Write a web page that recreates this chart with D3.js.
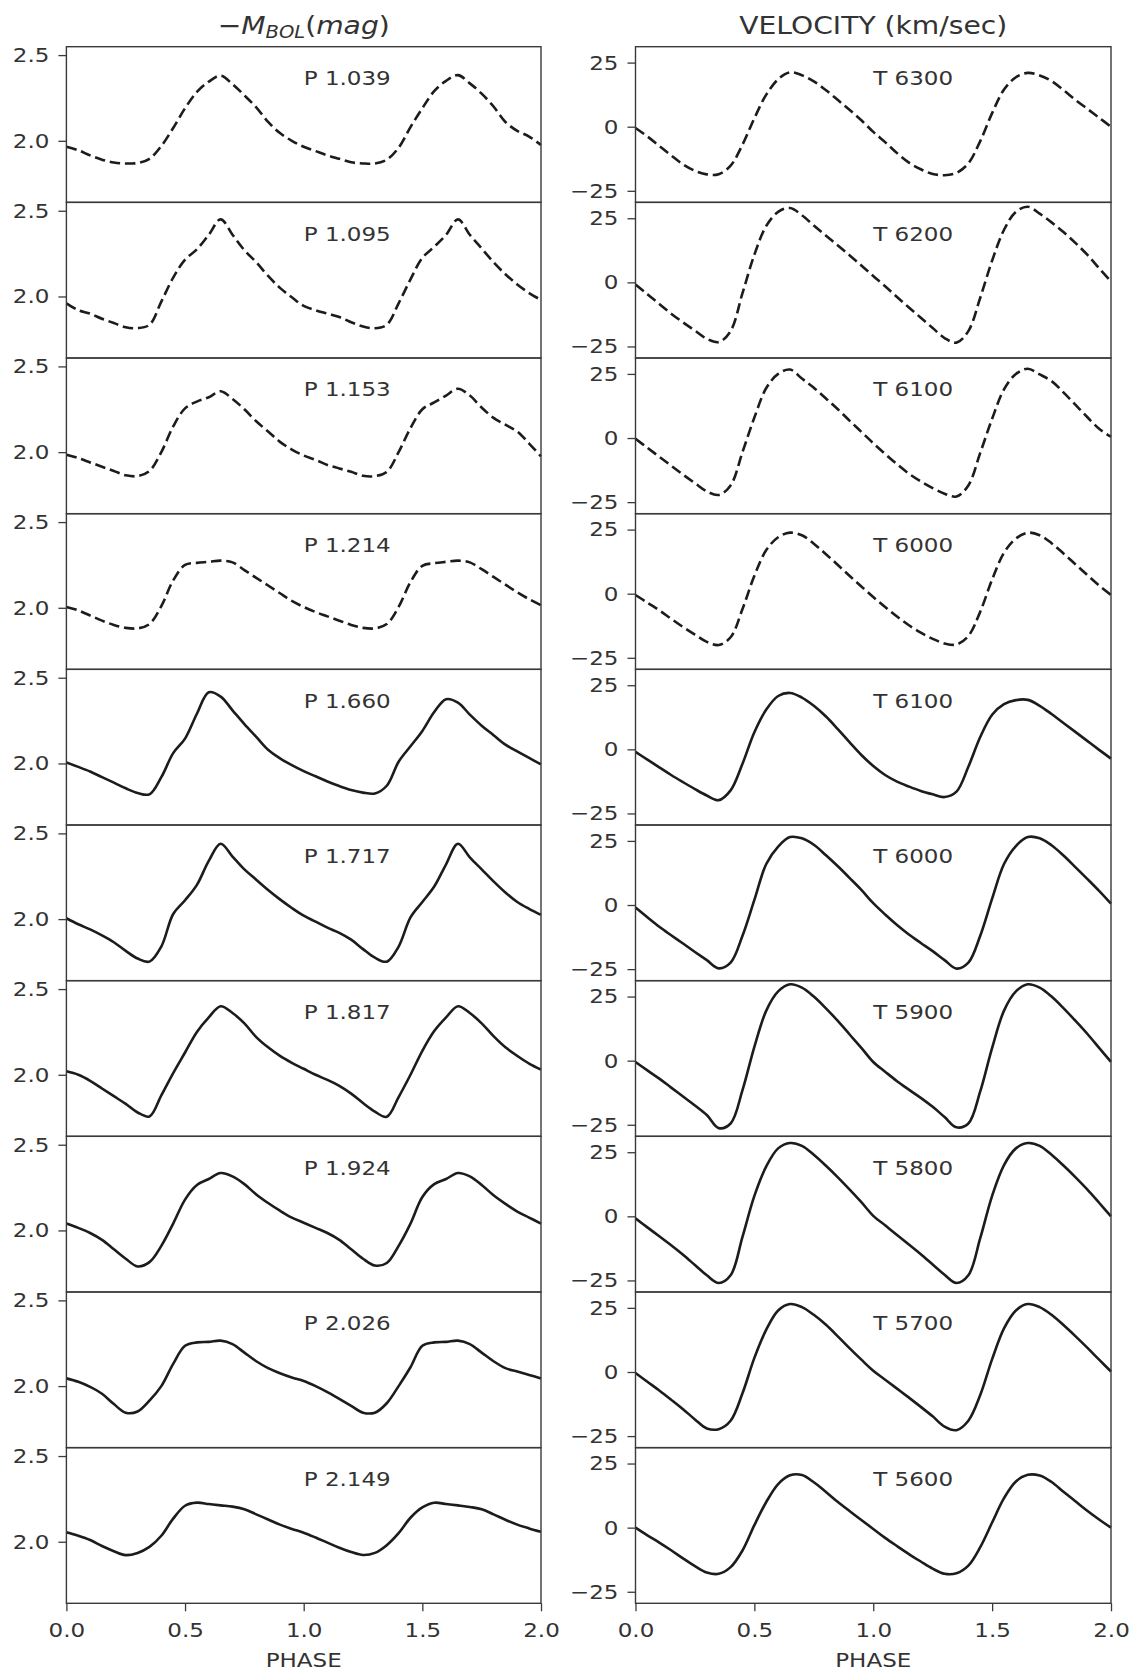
<!DOCTYPE html>
<html><head><meta charset="utf-8">
<script src="https://cdn.jsdelivr.net/npm/d3@7"></script>
<style>
body{margin:0;background:#fff;}
svg{display:block;font-family:"DejaVu Sans",sans-serif;}
</style></head><body>
<svg id="chart" width="1133" height="1676"></svg>
<script>
// ---------- DATA ----------
const phase = [0,0.05,0.1,0.15,0.2,0.25,0.3,0.35,0.4,0.45,0.5,0.55,0.6,0.65,0.7,0.75,0.8,0.85,0.9,0.95,1.0,
  1.05,1.1,1.15,1.2,1.25,1.3,1.35,1.4,1.45,1.5,1.55,1.6,1.65,1.7,1.75,1.8,1.85,1.9,1.95,2.0];

const mbolLabels = ["P 1.039","P 1.095","P 1.153","P 1.214","P 1.660","P 1.717","P 1.817","P 1.924","P 2.026","P 2.149"];
const velLabels  = ["T 6300","T 6200","T 6100","T 6000","T 6100","T 6000","T 5900","T 5800","T 5700","T 5600"];
const xTicks = [0,0.5,1.0,1.5,2.0];
const mbolTicks = [2.0,2.5];
const velTicks = [-25,0,25];
const mbolDomain = [1.641,2.549];
const velDomain = [-29.5,31.2];

const mbol_P1039 = [1.965,1.945,1.915,1.89,1.873,1.868,1.87,1.895,1.97,2.075,2.19,2.285,2.345,2.38,2.33,2.265,2.195,2.11,2.045,2.0,1.965,
  1.94,1.915,1.895,1.875,1.868,1.868,1.89,1.96,2.08,2.19,2.29,2.35,2.383,2.335,2.275,2.2,2.11,2.058,2.025,1.975];
const mbol_P1095 = [1.96,1.92,1.9,1.87,1.845,1.82,1.815,1.835,1.97,2.11,2.215,2.275,2.36,2.45,2.36,2.27,2.2,2.12,2.05,1.995,1.945,
  1.92,1.9,1.88,1.85,1.825,1.815,1.835,1.96,2.1,2.225,2.29,2.36,2.45,2.36,2.28,2.2,2.13,2.07,2.02,1.98];
const mbol_P1153 = [1.985,1.965,1.94,1.915,1.89,1.865,1.86,1.89,2.0,2.15,2.255,2.295,2.32,2.355,2.31,2.25,2.18,2.12,2.06,2.015,1.98,
  1.955,1.925,1.905,1.885,1.862,1.86,1.885,2.0,2.14,2.25,2.29,2.33,2.37,2.33,2.26,2.2,2.16,2.12,2.05,1.975];
const mbol_P1214 = [2.005,1.985,1.955,1.925,1.9,1.883,1.88,1.905,2.01,2.16,2.25,2.262,2.268,2.275,2.265,2.22,2.175,2.13,2.085,2.04,2.005,
  1.975,1.95,1.925,1.9,1.883,1.88,1.905,2.005,2.15,2.245,2.26,2.268,2.275,2.265,2.225,2.18,2.135,2.09,2.05,2.015];
const mbol_P1660 = [2.005,1.98,1.953,1.92,1.888,1.855,1.828,1.82,1.92,2.06,2.145,2.29,2.415,2.39,2.31,2.23,2.155,2.08,2.03,1.99,1.955,
  1.925,1.895,1.868,1.845,1.83,1.825,1.87,2.01,2.1,2.19,2.3,2.375,2.355,2.285,2.22,2.165,2.11,2.07,2.032,1.995];
const mbol_P1717 = [2.005,1.97,1.94,1.905,1.865,1.815,1.77,1.752,1.84,2.03,2.11,2.2,2.34,2.44,2.365,2.29,2.23,2.17,2.115,2.065,2.02,
  1.985,1.95,1.92,1.88,1.825,1.775,1.752,1.84,2.01,2.1,2.19,2.32,2.44,2.36,2.29,2.22,2.155,2.1,2.06,2.025];
const mbol_P1817 = [2.02,2.0,1.965,1.92,1.875,1.83,1.78,1.757,1.88,2.01,2.13,2.25,2.335,2.4,2.36,2.3,2.22,2.16,2.11,2.07,2.035,
  2.0,1.97,1.935,1.89,1.835,1.785,1.755,1.87,2.0,2.14,2.255,2.335,2.4,2.36,2.3,2.225,2.16,2.11,2.065,2.03];
const mbol_P1924 = [2.04,2.015,1.985,1.945,1.89,1.835,1.79,1.815,1.91,2.04,2.18,2.265,2.3,2.335,2.315,2.27,2.21,2.16,2.115,2.075,2.045,
  2.015,1.985,1.945,1.89,1.835,1.795,1.81,1.91,2.04,2.195,2.27,2.3,2.335,2.315,2.265,2.205,2.155,2.11,2.075,2.04];
const mbol_P2026 = [2.045,2.025,1.995,1.955,1.895,1.845,1.852,1.915,2.0,2.13,2.235,2.255,2.258,2.265,2.245,2.195,2.145,2.105,2.075,2.05,2.03,
  2.0,1.965,1.925,1.885,1.845,1.845,1.9,2.0,2.11,2.235,2.255,2.258,2.265,2.245,2.195,2.145,2.105,2.085,2.065,2.045];
const mbol_P2149 = [2.055,2.035,2.01,1.975,1.945,1.922,1.935,1.97,2.035,2.135,2.21,2.228,2.22,2.212,2.205,2.19,2.16,2.13,2.1,2.075,2.053,
  2.025,1.995,1.965,1.94,1.923,1.935,1.98,2.05,2.14,2.2,2.228,2.22,2.212,2.203,2.19,2.16,2.128,2.1,2.078,2.058];

const vel_T6300 = [-0.5,-3.8,-7.5,-11.2,-14.7,-17.2,-18.6,-18.5,-15.2,-7,3.3,12.5,18.5,21.2,20.1,17.7,14.3,10.5,6.6,2.5,-2,
  -6,-10.3,-14,-16.6,-18.4,-18.9,-18,-14.3,-5.6,5.3,14.5,19.3,21,20,17.8,14.3,10.5,7,3.5,0];
const vel_T6200 = [-0.8,-4.6,-8.4,-12.2,-15.6,-18.8,-22,-23.3,-19,-4.2,10.8,22,27.5,29,26.2,22.2,18.3,14.5,10.6,6.6,2.5,
  -1.5,-5.7,-9.8,-13.8,-17.8,-21.7,-23.5,-19,-6,8.5,20.5,27.5,29.5,26.8,23.4,19.6,15.4,10.8,5.5,0.3];
const vel_T6100d = [-0.3,-3.8,-7.3,-10.8,-14.3,-17.6,-20.8,-22.2,-18.5,-5.5,8,19.5,25,26.7,23.2,19.6,15.5,11.3,6.8,2.4,-2,
  -6.2,-10.2,-13.9,-16.9,-19.5,-21.7,-22.8,-18.5,-5.8,7.5,19,25,27,24.8,22.2,17.8,13,8.2,3.6,0.5];
const vel_T6000d = [-0.5,-3.5,-6.5,-9.8,-13,-16,-18.8,-20,-17,-6,7,17,22,23.8,22.8,19.5,15.5,11.3,7,2.8,-1.3,
  -5.2,-8.9,-12.3,-15.2,-17.6,-19.4,-19.8,-16.5,-7,5.5,16,21.5,23.8,22.8,19.7,15.7,11.5,7.3,3.2,-0.5];
const vel_T6100s = [-1,-4,-7,-10,-12.8,-15.5,-18,-19.8,-16,-5.6,6.7,15.5,20.8,22,20.2,17,12.9,8,2.8,-2.2,-6.5,
  -10,-12.6,-14.5,-16.2,-17.5,-18.6,-16.5,-6.8,4.8,13.5,17.6,19.2,19.3,17,13.8,10.3,6.8,3.3,-0.2,-3.6];
const vel_T6000s = [-1,-4.8,-8.5,-11.8,-15,-18.3,-21.5,-24.7,-22.5,-12,2,16,22.8,26.5,26,23.5,19.5,15.2,10.6,5.9,0.7,
  -3.7,-7.8,-11.5,-14.8,-18,-21.5,-24.8,-22.5,-12,2.5,16,23,26.5,26,23.3,19.3,14.8,10.2,5.5,0.5];
const vel_T5900 = [-0.5,-3.8,-7,-10.5,-14,-17.5,-21.2,-26.3,-24.5,-11.5,5.4,19.5,27,29.8,28.5,25,20.5,15.6,10.3,5,-0.5,
  -4.3,-8,-11.3,-14.5,-18,-22,-26,-24.5,-12,5,19.5,27,29.8,28.5,25,20.5,15.6,10.5,5,-0.5];
const vel_T5800 = [-0.8,-4.3,-7.8,-11.3,-15,-19,-23,-26,-23,-8,8,19.5,26.5,28.6,27.5,24,19.8,15.3,10.5,5.5,0.2,
  -3.5,-7.3,-11,-14.8,-18.8,-22.8,-26,-23,-8.5,8,20,26.5,28.6,27.5,24,19.8,15.3,10.5,5.3,0];
const vel_T5700 = [-0.4,-3.8,-7.2,-10.8,-14.5,-18.5,-22,-22.3,-19,-8.3,5.5,16.5,24,26.5,25.3,22.3,18.5,14,9.3,4.8,0.5,
  -3,-6.5,-10,-13.6,-17.3,-21.3,-22.7,-19,-9,5,17,24,26.5,25.3,22.3,18.3,14,9.5,4.8,0.2];
const vel_T5600 = [0,-3,-5.8,-8.8,-12,-15,-17.5,-18,-15.4,-8.9,1,10,17,20.4,20.5,17.7,14,10.1,6.5,3,-0.5,
  -4,-7.2,-10.3,-13.2,-16,-18,-17.8,-14.8,-7.6,2,11.5,18,20.6,20.3,17.8,14,10.3,6.6,3.2,0];

const mbolSeries = [mbol_P1039,mbol_P1095,mbol_P1153,mbol_P1214,mbol_P1660,mbol_P1717,mbol_P1817,mbol_P1924,mbol_P2026,mbol_P2149];
const velSeries = [vel_T6300,vel_T6200,vel_T6100d,vel_T6000d,vel_T6100s,vel_T6000s,vel_T5900,vel_T5800,vel_T5700,vel_T5600];
const nDashed = 4; // first four rows are drawn dashed

// ---------- LAYOUT ----------
const TOP = 46.7, PH = 155.66, NP = 10;
const colL = [66.4, 541], colR = [635.5, 1111];
const SX = 1.15;           // horizontal stretch of the text
const FS = 20;             // tick / label font size
const ink = "#1c1c1c", axisCol = "#3a3a3a", textCol = "#333";

const svg = d3.select("#chart");
const xL = d3.scaleLinear().domain([0,2]).range(colL);
const xR = d3.scaleLinear().domain([0,2]).range(colR);

function stretch(sel){
  sel.each(function(){
    const t = d3.select(this);
    const x = +t.attr("x") || 0;
    t.attr("x", 0).attr("transform", `translate(${x},0) scale(${SX},1)`);
  });
}
function styleAxis(g){
  g.attr("font-size", FS).attr("font-family", "DejaVu Sans");
  g.select(".domain").remove();
  g.selectAll(".tick line").attr("stroke", axisCol).attr("stroke-width", 1.3);
  g.selectAll(".tick text").attr("fill", textCol);
  stretch(g.selectAll(".tick text"));
}

for (let i = 0; i < NP; i++) {
  const top = TOP + i * PH;
  const yL = d3.scaleLinear().domain(mbolDomain).range([top + PH, top]);
  const yR = d3.scaleLinear().domain(velDomain).range([top + PH, top]);
  const dash = i < nDashed ? "10.5,4.8" : null;

  [[xL, yL, mbolSeries[i], mbolLabels[i], mbolTicks, d3.format(".1f"), colL],
   [xR, yR, velSeries[i], velLabels[i], velTicks, d3.format("d"), colR]].forEach(([x, y, vals, lab, ticks, fmt, col]) => {
    const line = d3.line().x((d, k) => x(phase[k])).y(d => y(d)).curve(d3.curveCatmullRom.alpha(0.5));
    svg.append("path").datum(vals).attr("d", line)
      .attr("fill", "none").attr("stroke", ink).attr("stroke-width", 2.6)
      .attr("stroke-linejoin", "round").attr("stroke-dasharray", dash);

    svg.append("rect").attr("x", col[0]).attr("y", top).attr("width", col[1] - col[0]).attr("height", PH)
      .attr("fill", "none").attr("stroke", axisCol).attr("stroke-width", 1.4);

    const ga = svg.append("g").attr("transform", `translate(${col[0]},0)`)
      .call(d3.axisLeft(y).tickValues(ticks).tickFormat(fmt).tickSize(8).tickPadding(9));
    styleAxis(ga);

    svg.append("text").attr("fill", textCol).attr("font-size", FS)
      .attr("transform", `translate(${x(1.0)},${top + 38.4}) scale(${SX},1)`)
      .text(lab);

    if (i === NP - 1) {
      const gb = svg.append("g").attr("transform", `translate(0,${top + PH})`)
        .call(d3.axisBottom(x).tickValues(xTicks).tickFormat(d3.format(".1f")).tickSize(8).tickPadding(11.5));
      styleAxis(gb);
      svg.append("text").attr("fill", textCol).attr("font-size", FS).attr("text-anchor", "middle")
        .attr("transform", `translate(${(col[0] + col[1]) / 2},1667.3) scale(${SX},1)`)
        .text("PHASE");
    }
  });
}

// titles
const tL = svg.append("text").attr("fill", textCol).attr("font-size", 24.5).attr("text-anchor", "middle")
  .attr("transform", `translate(${(colL[0] + colL[1]) / 2},33.5) scale(${SX},1)`);
tL.append("tspan").text("\u2212");
tL.append("tspan").attr("font-style", "italic").text("M");
tL.append("tspan").attr("font-style", "italic").attr("font-size", 17).attr("dy", 4).text("BOL");
tL.append("tspan").attr("dy", -4).text("(");
tL.append("tspan").attr("font-style", "italic").text("mag");
tL.append("tspan").text(")");

svg.append("text").attr("fill", textCol).attr("font-size", 24.5).attr("text-anchor", "middle")
  .attr("transform", `translate(${(colR[0] + colR[1]) / 2},33.5) scale(${SX},1)`)
  .text("VELOCITY (km/sec)");
</script>
</body></html>
